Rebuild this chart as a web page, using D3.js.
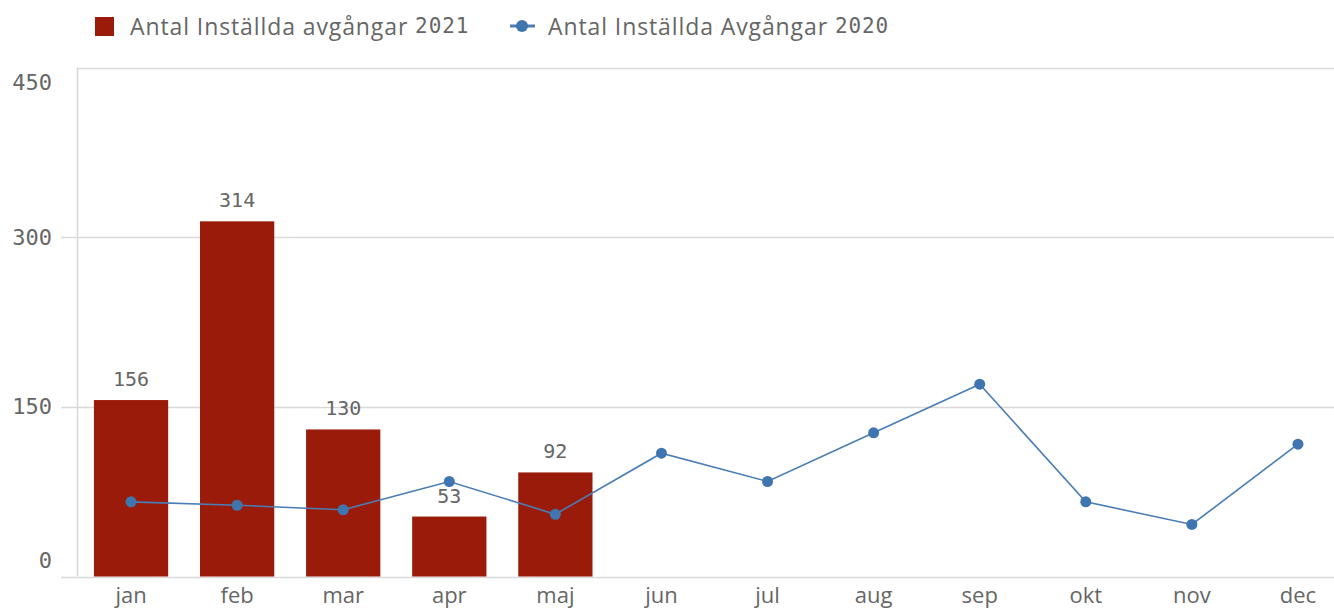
<!DOCTYPE html>
<html>
<head>
<meta charset="utf-8">
<script src="https://cdn.jsdelivr.net/npm/d3@7"></script>
<style>
  body { margin: 0; background: #fff; }
  svg { display: block; }
  text { font-family: "Open Sans", Roboto, sans-serif; fill: #666; }
  .num { font-family: "DejaVu Sans Mono", monospace; }
</style>
</head>
<body>
<div id="chart"></div>
<script>
// chart data
var months = ["jan", "feb", "mar", "apr", "maj", "jun", "jul", "aug", "sep", "okt", "nov", "dec"];
var cancelled2021 = [156, 314, 130, 53, 92];
var cancelled2020 = [66, 63, 59, 84, 55, 109, 84, 127, 170, 66, 46, 117];
var yTicks = [0, 150, 300, 450];
var name2021 = "Antal Inställda avgångar ";
var name2020 = "Antal Inställda Avgångar ";

var W = 1334, H = 610;
var margin = { top: 67.5, left: 77.5, bottom: 33.5 };

var svg = d3.select("#chart").append("svg")
    .attr("width", W)
    .attr("height", H);

var x = d3.scaleBand()
    .domain(months)
    .range([78, 1351])
    .paddingInner(0.3)
    .paddingOuter(0.15);

var y = d3.scaleLinear()
    .domain([0, 450])
    .range([H - margin.bottom, margin.top]);

// gridlines
svg.append("g")
    .selectAll("line")
    .data(yTicks)
    .enter().append("line")
    .attr("x1", function (d) { return d == 450 ? margin.left : 61; })
    .attr("x2", W)
    .attr("y1", function (d) { return Math.round(y(d)) + 0.5; })
    .attr("y2", function (d) { return Math.round(y(d)) + 0.5; })
    .attr("stroke", "#d9d9d9")
    .attr("stroke-width", 1.5);

// left axis line
svg.append("line")
    .attr("x1", margin.left).attr("x2", margin.left)
    .attr("y1", y(450)).attr("y2", y(0))
    .attr("stroke", "#d9d9d9")
    .attr("stroke-width", 1.5);

// y tick labels (end ones pushed inside the plot)
svg.append("g")
    .selectAll("text")
    .data(yTicks)
    .enter().append("text")
    .attr("class", "num")
    .attr("x", 52)
    .attr("y", function (d) {
        if (d == 0) return y(d) - 16;
        if (d == 450) return y(d) + 15;
        return y(d);
    })
    .attr("text-anchor", "end")
    .attr("dominant-baseline", "central")
    .attr("font-size", "22px")
    .text(function (d) { return d; });

// bars 2021
var barData = cancelled2021.map(function (v, i) { return { m: months[i], v: v }; });

svg.append("g")
    .selectAll("rect")
    .data(barData)
    .enter().append("rect")
    .attr("x", function (d) { return x(d.m); })
    .attr("width", x.bandwidth())
    .attr("y", function (d) { return y(d.v); })
    .attr("height", function (d) { return y(0) - y(d.v); })
    .attr("fill", "#9b1b0a");

// line 2020
var lineData = cancelled2020.map(function (v, i) { return { m: months[i], v: v }; });

var line = d3.line()
    .x(function (d) { return x(d.m) + x.bandwidth() / 2; })
    .y(function (d) { return y(d.v); });

svg.append("path")
    .datum(lineData)
    .attr("d", line)
    .attr("fill", "none")
    .attr("stroke", "#4a7db5")
    .attr("stroke-width", 1.6);

svg.append("g")
    .selectAll("circle")
    .data(lineData)
    .enter().append("circle")
    .attr("cx", function (d) { return x(d.m) + x.bandwidth() / 2; })
    .attr("cy", function (d) { return y(d.v); })
    .attr("r", 5.5)
    .attr("fill", "#3f76b0");

// bar value labels
svg.append("g")
    .selectAll("text")
    .data(barData)
    .enter().append("text")
    .attr("class", "num")
    .attr("x", function (d) { return x(d.m) + x.bandwidth() / 2; })
    .attr("y", function (d) { return y(d.v) - 21; })
    .attr("text-anchor", "middle")
    .attr("dominant-baseline", "central")
    .attr("font-size", "20px")
    .text(function (d) { return d.v; });

// x labels
svg.append("g")
    .selectAll("text")
    .data(months)
    .enter().append("text")
    .attr("x", function (d) { return x(d) + x.bandwidth() / 2; })
    .attr("y", 594)
    .attr("text-anchor", "middle")
    .attr("dominant-baseline", "central")
    .attr("font-size", "22px")
    .text(function (d) { return d; });

// legend
var legend = svg.append("g");

legend.append("rect")
    .attr("x", 95).attr("y", 17)
    .attr("width", 19).attr("height", 19)
    .attr("fill", "#9b1b0a");

var t1 = legend.append("text")
    .attr("x", 130).attr("y", 26)
    .attr("dominant-baseline", "central")
    .attr("font-size", "23px")
    .attr("letter-spacing", "0.9px");
t1.append("tspan").text(name2021);
t1.append("tspan").attr("class", "num").attr("font-size", "21px").text("2021");

legend.append("line")
    .attr("x1", 510).attr("x2", 535)
    .attr("y1", 26).attr("y2", 26)
    .attr("stroke", "#4a7db5")
    .attr("stroke-width", 3);

legend.append("circle")
    .attr("cx", 522).attr("cy", 26)
    .attr("r", 6)
    .attr("fill", "#3f76b0");

var t2 = legend.append("text")
    .attr("x", 548).attr("y", 26)
    .attr("dominant-baseline", "central")
    .attr("font-size", "23px")
    .attr("letter-spacing", "0.9px");
t2.append("tspan").text(name2020);
t2.append("tspan").attr("class", "num").attr("font-size", "21px").text("2020");
</script>
</body>
</html>
